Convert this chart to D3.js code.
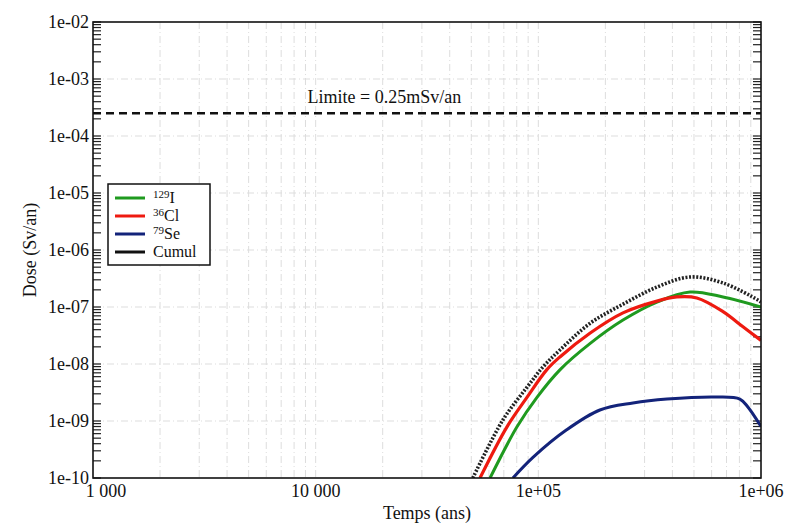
<!DOCTYPE html>
<html>
<head>
<meta charset="utf-8">
<script src="https://cdn.jsdelivr.net/npm/d3@7"></script>
<style>
  body { margin: 0; background: #fff; }
  text { font-family: "Liberation Serif", "Times New Roman", serif; fill: #111; }
</style>
</head>
<body>
<script>
// Data (time in years, dose in Sv/an)
const tempsI129 = [60700, 80200, 98600, 125000, 171000, 240000, 341000, 480000, 675000, 1000000];
const doseI129  = [1e-10, 7.9e-10, 2.6e-9, 7.9e-9, 2.3e-8, 5.9e-8, 1.22e-7, 1.83e-7, 1.5e-7, 1.0e-7];

const tempsCl36 = [54700, 72300, 88900, 109000, 125000, 171000, 240000, 341000, 419000, 515000, 675000, 830000, 1000000];
const doseCl36  = [1e-10, 7.9e-10, 2.6e-9, 7.9e-9, 1.33e-8, 3.5e-8, 7.9e-8, 1.27e-7, 1.5e-7, 1.44e-7, 8.3e-8, 4.5e-8, 2.6e-8];

const tempsSe79 = [76900, 94600, 134000, 189000, 266000, 378000, 634000, 804000, 873000, 1000000];
const doseSe79  = [1e-10, 2.3e-10, 7.0e-10, 1.56e-9, 2.07e-9, 2.43e-9, 2.64e-9, 2.43e-9, 1.76e-9, 8.0e-10];

const tempsCumul = [50800, 69300, 88900, 105000, 125000, 171000, 240000, 341000, 480000, 675000, 968000, 1000000];
const doseCumul  = [1e-10, 1.04e-9, 3.9e-9, 8.9e-9, 1.76e-8, 5.2e-8, 1.12e-7, 2.24e-7, 3.36e-7, 2.64e-7, 1.33e-7, 1.22e-7];

const limite = 2.5e-4;
const limiteLabel = "Limite = 0.25mSv/an";

const xTickValues = [1e3, 1e4, 1e5, 1e6];
const xTickLabels = ["1 000", "10 000", "1e+05", "1e+06"];
const yTickValues = [1e-2, 1e-3, 1e-4, 1e-5, 1e-6, 1e-7, 1e-8, 1e-9, 1e-10];
const yTickLabels = ["1e-02", "1e-03", "1e-04", "1e-05", "1e-06", "1e-07", "1e-08", "1e-09", "1e-10"];

const legendIso = ["129", "36", "79", ""];
const legendNames = ["I", "Cl", "Se", "Cumul"];
const legendColors = ["#1f9a1f", "#ee1a10", "#13237a", "#111"];

const W = 789, H = 526;
const pLeft = 93, pRight = 761, pTop = 22, pBottom = 478;

const svg = d3.select("body").append("svg")
  .attr("width", W)
  .attr("height", H);

const x = d3.scaleLog().domain([1e3, 1e6]).range([pLeft, pRight]);
const y = d3.scaleLog().domain([1e-10, 1e-2]).range([pBottom, pTop]);

// minor positions for grid and ticks
const xMinor = [];
for (let k = 3; k < 6; k++) for (let m = 2; m <= 9; m++) xMinor.push(m * Math.pow(10, k));
const yAll = [];
for (let k = -10; k < -2; k++) for (let m = 1; m <= 9; m++) yAll.push(m * Math.pow(10, k));
yAll.push(1e-2);

// grid
svg.append("g").selectAll("line")
  .data(xMinor.concat([1e4, 1e5]))
  .join("line")
  .attr("x1", d => x(d)).attr("x2", d => x(d))
  .attr("y1", pTop).attr("y2", pBottom)
  .attr("stroke", "#dddddd")
  .attr("stroke-width", 1)
  .attr("stroke-dasharray", "7,3,1,3");

svg.append("g").selectAll("line")
  .data(yTickValues.slice(1, -1))
  .join("line")
  .attr("x1", pLeft).attr("x2", pRight)
  .attr("y1", d => y(d)).attr("y2", d => y(d))
  .attr("stroke", "#dddddd")
  .attr("stroke-width", 1)
  .attr("stroke-dasharray", "7,3,1,3");

// inward ticks on left and right
const tickLen = 8;
svg.append("g").selectAll("line")
  .data(yAll)
  .join("line")
  .attr("x1", pLeft).attr("x2", pLeft + tickLen)
  .attr("y1", d => y(d)).attr("y2", d => y(d))
  .attr("stroke", "#222").attr("stroke-width", 1.2);
svg.append("g").selectAll("line")
  .data(yAll)
  .join("line")
  .attr("x1", pRight - tickLen).attr("x2", pRight)
  .attr("y1", d => y(d)).attr("y2", d => y(d))
  .attr("stroke", "#222").attr("stroke-width", 1.2);

// curves
const line = d3.line()
  .x(d => x(d[0]))
  .y(d => y(d[1]))
  .curve(d3.curveCatmullRom.alpha(0.5));

svg.append("defs").append("clipPath").attr("id", "clip")
  .append("rect").attr("x", pLeft).attr("y", pTop).attr("width", pRight - pLeft).attr("height", pBottom - pTop);

const plot = svg.append("g").attr("clip-path", "url(#clip)");

const series = [
  { t: tempsSe79, d: doseSe79, color: legendColors[2], dash: null, w: 3 },
  { t: tempsI129, d: doseI129, color: legendColors[0], dash: null, w: 3 },
  { t: tempsCl36, d: doseCl36, color: legendColors[1], dash: null, w: 3.2 },
  { t: tempsCumul, d: doseCumul, color: "#222", dash: "2,1.6", w: 3.6 }
];

series.forEach(s => {
  plot.append("path")
    .datum(d3.zip(s.t, s.d))
    .attr("d", line)
    .attr("fill", "none")
    .attr("stroke", s.color)
    .attr("stroke-width", s.w)
    .attr("stroke-dasharray", s.dash);
});

// limit line
svg.append("line")
  .attr("x1", pLeft).attr("x2", pRight)
  .attr("y1", y(limite)).attr("y2", y(limite))
  .attr("stroke", "#111")
  .attr("stroke-width", 2.4)
  .attr("stroke-dasharray", "8,5");

svg.append("text")
  .attr("x", x(9200))
  .attr("y", y(limite) - 10)
  .attr("font-size", 18)
  .text(limiteLabel);

// frame
svg.append("rect")
  .attr("x", pLeft).attr("y", pTop)
  .attr("width", pRight - pLeft).attr("height", pBottom - pTop)
  .attr("fill", "none")
  .attr("stroke", "#111")
  .attr("stroke-width", 1.6);

// tick labels
svg.append("g").selectAll("text")
  .data(yTickValues)
  .join("text")
  .attr("x", pLeft - 4)
  .attr("y", d => y(d))
  .attr("dy", "0.35em")
  .attr("text-anchor", "end")
  .attr("font-size", 18)
  .text((d, i) => yTickLabels[i]);

svg.append("g").selectAll("text")
  .data(xTickValues)
  .join("text")
  .attr("x", d => x(d))
  .attr("dx", (d, i) => i === 0 ? 13 : 0)
  .attr("y", pBottom + 19)
  .attr("text-anchor", "middle")
  .attr("font-size", 18)
  .text((d, i) => xTickLabels[i]);

// axis titles
svg.append("text")
  .attr("x", (pLeft + pRight) / 2)
  .attr("y", 519)
  .attr("text-anchor", "middle")
  .attr("font-size", 18)
  .text("Temps (ans)");

svg.append("text")
  .attr("transform", "translate(36,250) rotate(-90)")
  .attr("text-anchor", "middle")
  .attr("font-size", 18)
  .text("Dose (Sv/an)");

// legend
const lg = svg.append("g");
lg.append("rect")
  .attr("x", 108).attr("y", 184)
  .attr("width", 102).attr("height", 81)
  .attr("fill", "#fff")
  .attr("stroke", "#111")
  .attr("stroke-width", 1.5);

legendNames.forEach((name, i) => {
  const yy = 198 + i * 18;
  lg.append("line")
    .attr("x1", 115).attr("x2", 145)
    .attr("y1", yy).attr("y2", yy)
    .attr("stroke", legendColors[i])
    .attr("stroke-width", 3);
  const t = lg.append("text")
    .attr("x", 153)
    .attr("y", yy + 5)
    .attr("font-size", 16);
  if (legendIso[i]) {
    t.append("tspan").attr("font-size", 11).attr("dy", -5).text(legendIso[i]);
    t.append("tspan").attr("dy", 5).text(name);
  } else {
    t.text(name);
  }
});
</script>
</body>
</html>
